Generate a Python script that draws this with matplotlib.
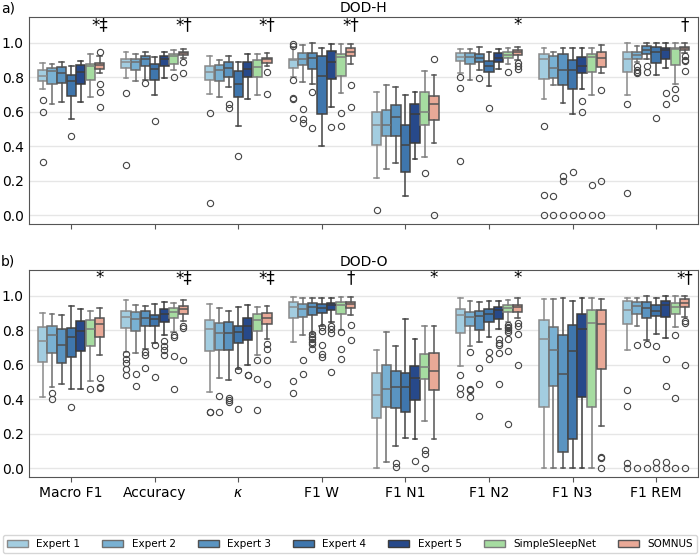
import numpy as np
import matplotlib.pyplot as plt
from matplotlib.patches import Patch

#----------------------------------------------------------------------------------------------------------------------
# Data: per metric, per model -> [whislo, q1, median, q3, whishi]

metrics = ["Macro F1", "Accuracy", "$\\kappa$", "F1 W", "F1 N1", "F1 N2", "F1 N3", "F1 REM"]
models = ["Expert 1", "Expert 2", "Expert 3", "Expert 4", "Expert 5", "SimpleSleepNet", "SOMNUS"]

dodh_stats = [
    [[0.730, 0.776, 0.809, 0.840, 0.884], [0.643, 0.763, 0.834, 0.853, 0.876], [0.656, 0.768, 0.822, 0.861, 0.890],
     [0.560, 0.691, 0.778, 0.811, 0.865], [0.656, 0.763, 0.830, 0.873, 0.894], [0.685, 0.786, 0.865, 0.876, 0.931],
     [0.822, 0.849, 0.873, 0.884, 0.920]],
    [[0.793, 0.853, 0.890, 0.903, 0.946], [0.776, 0.840, 0.890, 0.907, 0.936], [0.786, 0.865, 0.903, 0.923, 0.948],
     [0.695, 0.786, 0.847, 0.876, 0.919], [0.793, 0.865, 0.903, 0.923, 0.948], [0.840, 0.878, 0.923, 0.931, 0.956],
     [0.913, 0.927, 0.940, 0.948, 0.965]],
    [[0.705, 0.782, 0.830, 0.865, 0.923], [0.685, 0.776, 0.840, 0.871, 0.898], [0.743, 0.803, 0.851, 0.890, 0.923],
     [0.515, 0.685, 0.763, 0.836, 0.890], [0.672, 0.799, 0.849, 0.886, 0.931], [0.699, 0.803, 0.857, 0.898, 0.931],
     [0.865, 0.882, 0.903, 0.913, 0.942]],
    [[0.803, 0.855, 0.897, 0.903, 0.975], [0.772, 0.871, 0.907, 0.942, 0.986], [0.759, 0.849, 0.913, 0.938, 0.996],
     [0.402, 0.589, 0.807, 0.923, 0.971], [0.627, 0.792, 0.890, 0.952, 0.994], [0.707, 0.805, 0.917, 0.931, 0.994],
     [0.878, 0.922, 0.946, 0.969, 0.994]],
    [[0.218, 0.409, 0.521, 0.598, 0.716], [0.266, 0.461, 0.525, 0.608, 0.757], [0.303, 0.461, 0.571, 0.641, 0.745],
     [0.112, 0.251, 0.409, 0.523, 0.699], [0.328, 0.421, 0.589, 0.647, 0.716], [0.340, 0.525, 0.600, 0.712, 0.834],
     [0.417, 0.554, 0.647, 0.691, 0.811]],
    [[0.822, 0.892, 0.917, 0.938, 0.961], [0.786, 0.878, 0.917, 0.942, 0.965], [0.840, 0.886, 0.913, 0.932, 0.973],
     [0.751, 0.832, 0.865, 0.892, 0.946], [0.846, 0.890, 0.913, 0.942, 0.961], [0.878, 0.911, 0.929, 0.946, 0.969],
     [0.900, 0.927, 0.948, 0.958, 0.975]],
    [[0.676, 0.788, 0.903, 0.936, 0.967], [0.755, 0.793, 0.853, 0.923, 0.948], [0.653, 0.757, 0.840, 0.936, 0.971],
     [0.589, 0.730, 0.840, 0.898, 0.967], [0.730, 0.824, 0.865, 0.917, 0.967], [0.697, 0.830, 0.917, 0.931, 0.971],
     [0.822, 0.861, 0.913, 0.946, 0.986]],
    [[0.699, 0.830, 0.907, 0.948, 0.996], [0.888, 0.907, 0.927, 0.946, 0.981], [0.907, 0.932, 0.958, 0.981, 1.000],
     [0.813, 0.884, 0.946, 0.977, 1.000], [0.853, 0.907, 0.958, 0.967, 0.996], [0.763, 0.873, 0.963, 0.969, 1.000],
     [0.942, 0.958, 0.969, 0.977, 1.000]],
]

dodh_fliers = [
    [[0.666, 0.600, 0.311], [], [], [0.458], [], [], [0.948, 0.759, 0.712, 0.627]],
    [[0.707, 0.293], [], [0.768], [0.548], [], [0.801], [0.890, 0.826]],
    [[0.591, 0.071], [], [0.645, 0.624], [0.344], [], [], [0.828, 0.701]],
    [[0.990, 0.981, 0.782, 0.681, 0.676, 0.566], [0.618, 0.560, 0.533], [0.714, 0.508], [], [0.512],
     [0.593, 0.515], [0.753, 0.627]],
    [[0.031], [], [], [], [], [0.243], [0.903, 0.002]],
    [[0.799, 0.737, 0.315], [], [0.795], [0.622], [], [0.828], [0.880, 0.865, 0.846]],
    [[0.517, 0.116, 0.0], [0.110, 0.0], [0.228, 0.199, 0.0], [0.251, 0.0], [0.662, 0.598, 0.0], [0.174, 0.0],
     [0.728, 0.199, 0.0]],
    [[0.647, 0.131], [0.867, 0.840, 0.830, 0.822], [0.863, 0.830], [0.566], [0.710, 0.647], [0.730, 0.681],
     [0.923, 0.900, 0.892, 0.836]],
]

dodo_stats = [
    [[0.414, 0.617, 0.738, 0.819, 0.902], [0.472, 0.669, 0.771, 0.823, 0.896], [0.491, 0.611, 0.717, 0.809, 0.886],
     [0.459, 0.647, 0.761, 0.813, 0.940], [0.462, 0.678, 0.796, 0.855, 0.921], [0.507, 0.707, 0.809, 0.859, 0.913],
     [0.659, 0.761, 0.836, 0.869, 0.931]],
    [[0.674, 0.815, 0.875, 0.913, 0.973], [0.667, 0.796, 0.867, 0.906, 0.948], [0.690, 0.823, 0.873, 0.911, 0.942],
     [0.724, 0.825, 0.867, 0.890, 0.954], [0.771, 0.848, 0.896, 0.923, 0.963], [0.790, 0.873, 0.906, 0.931, 0.960],
     [0.854, 0.894, 0.923, 0.940, 0.973]],
    [[0.443, 0.682, 0.805, 0.857, 0.950], [0.526, 0.684, 0.786, 0.842, 0.929], [0.511, 0.688, 0.786, 0.848, 0.909],
     [0.578, 0.726, 0.792, 0.825, 0.934], [0.601, 0.744, 0.825, 0.869, 0.944], [0.659, 0.794, 0.861, 0.896, 0.934],
     [0.751, 0.836, 0.873, 0.902, 0.942]],
    [[0.732, 0.871, 0.934, 0.961, 0.992], [0.771, 0.875, 0.921, 0.950, 0.986], [0.784, 0.886, 0.934, 0.958, 0.986],
     [0.825, 0.900, 0.931, 0.952, 0.986], [0.848, 0.915, 0.948, 0.960, 0.986], [0.800, 0.896, 0.948, 0.961, 0.992],
     [0.890, 0.930, 0.950, 0.965, 0.995]],
    [[0.0, 0.293, 0.424, 0.555, 0.684], [0.039, 0.355, 0.459, 0.597, 0.788], [0.131, 0.351, 0.470, 0.566, 0.711],
     [0.179, 0.324, 0.470, 0.551, 0.863], [0.173, 0.397, 0.524, 0.590, 0.748], [0.276, 0.520, 0.588, 0.661, 0.827],
     [0.173, 0.455, 0.563, 0.667, 0.827]],
    [[0.592, 0.786, 0.890, 0.925, 0.987], [0.711, 0.825, 0.875, 0.904, 0.967], [0.732, 0.802, 0.884, 0.913, 0.963],
     [0.761, 0.848, 0.894, 0.925, 0.967], [0.809, 0.867, 0.915, 0.934, 0.969], [0.848, 0.906, 0.931, 0.944, 0.977],
     [0.871, 0.908, 0.933, 0.948, 0.987]],
    [[0.0, 0.353, 0.751, 0.857, 0.979], [0.0, 0.478, 0.684, 0.821, 0.983], [0.0, 0.096, 0.545, 0.775, 0.988],
     [0.0, 0.170, 0.682, 0.832, 0.967], [0.0, 0.414, 0.809, 0.896, 0.988], [0.0, 0.355, 0.844, 0.915, 0.988],
     [0.245, 0.578, 0.834, 0.915, 0.983]],
    [[0.688, 0.836, 0.919, 0.967, 0.987], [0.827, 0.896, 0.938, 0.961, 0.987], [0.746, 0.873, 0.931, 0.963, 0.996],
     [0.776, 0.881, 0.909, 0.948, 0.987], [0.757, 0.877, 0.944, 0.969, 0.998], [0.819, 0.892, 0.934, 0.958, 0.998],
     [0.877, 0.934, 0.960, 0.979, 0.998]],
]

dodo_fliers = [
    [[], [0.437, 0.401], [], [0.356], [], [0.460], [0.522, 0.472, 0.466]],
    [[0.661, 0.636, 0.611, 0.578, 0.538], [0.545, 0.480], [0.674, 0.655, 0.580], [0.717, 0.532],
     [0.736, 0.711, 0.688, 0.655], [0.771, 0.763, 0.651, 0.462], [0.823, 0.813, 0.626]],
    [[0.329, 0.326], [0.418, 0.329], [0.408, 0.397, 0.383], [0.570, 0.345], [0.543, 0.538], [0.630, 0.520, 0.341],
     [0.723, 0.694, 0.630, 0.486]],
    [[0.507, 0.435], [0.630, 0.545], [0.776, 0.763, 0.748, 0.732, 0.723, 0.694], [0.819, 0.798, 0.713, 0.665, 0.645],
     [0.825, 0.805, 0.786, 0.559], [0.790, 0.690, 0.632], [0.828, 0.745]],
    [[], [], [0.029, 0.006], [], [0.042], [0.106, 0.081, 0.004], []],
    [[0.543, 0.468, 0.430], [0.672, 0.459, 0.453, 0.414], [0.584, 0.491, 0.301], [0.676, 0.636],
     [0.748, 0.728, 0.713, 0.669, 0.491], [0.830, 0.820, 0.810, 0.800, 0.790, 0.750, 0.682, 0.256],
     [0.842, 0.825, 0.778, 0.597]],
    [[], [], [], [], [], [], [0.064, 0.058, 0.0]],
    [[0.455, 0.360, 0.033, 0.0], [0.717, 0.0], [0.723, 0.0], [0.709, 0.039, 0.0], [0.634, 0.478, 0.039, 0.0],
     [0.775, 0.408, 0.0], [0.852, 0.842, 0.597, 0.0]],
]

dodh_marks = ["*‡", "*†", "*†", "*†", "", "*", "", "†"]
dodo_marks = ["*", "*‡", "*‡", "†", "*", "*", "", "*†"]

#----------------------------------------------------------------------------------------------------------------------
# Style

fills = ["#a3cde0", "#79b1d3", "#5a94c1", "#3f76ad", "#27498a", "#a6dca1", "#e9a997"]
edges = ["#8a8a8a", "#6e6e6e", "#505050", "#444444", "#3c3c3c", "#7c7c7c", "#555555"]

plt.rcParams["font.family"] = ["DejaVu Sans"]
fig = plt.figure(figsize=(7, 5.55), dpi=100)
ax1 = fig.add_axes([0.042, 0.597, 0.955, 0.373])
ax2 = fig.add_axes([0.042, 0.141, 0.955, 0.373])

step = 0.8 / len(models)


def draw_panel(ax, stats, fliers, marks, title, letter, show_labels):
    for i in range(len(metrics)):
        for j in range(len(models)):
            lo, q1, med, q3, hi = stats[i][j]
            st = dict(whislo=lo, q1=q1, med=med, q3=q3, whishi=hi, fliers=fliers[i][j])
            pos = i + (j - 3) * step
            lc = edges[j]
            ax.bxp([st], positions=[pos], widths=step * 0.97, patch_artist=True,
                   capwidths=step * 0.5,
                   boxprops=dict(facecolor=fills[j], edgecolor=lc, linewidth=1.1),
                   medianprops=dict(color=lc, linewidth=1.1),
                   whiskerprops=dict(color=lc, linewidth=1.1),
                   capprops=dict(color=lc, linewidth=1.1),
                   flierprops=dict(marker="o", markersize=4.5, markerfacecolor="none",
                                   markeredgecolor="#444444", markeredgewidth=0.8))
        if marks[i]:
            ax.text(i + 3 * step, 1.1, marks[i], ha="center", va="center", fontsize=12)

    ax.set_xlim(-0.5, len(metrics) - 0.5)
    ax.set_ylim(-0.048, 1.15)
    ax.set_yticks([0.0, 0.2, 0.4, 0.6, 0.8, 1.0])
    ax.set_xticks(range(len(metrics)))
    if show_labels:
        ax.set_xticklabels(metrics, fontsize=10)
    else:
        ax.set_xticklabels([])
    ax.tick_params(axis="y", length=0, labelsize=10, pad=4)
    ax.tick_params(axis="x", length=3.5, color="#555555")
    ax.yaxis.grid(True, color="#e6e6e6", linewidth=1)
    ax.set_axisbelow(True)
    for s in ax.spines.values():
        s.set_color("#555555")
    ax.set_title(title, fontsize=10, pad=3)
    top = ax.get_position().y1
    fig.text(0.001, top + 0.027, letter, fontsize=10, va="top", ha="left")


draw_panel(ax1, dodh_stats, dodh_fliers, dodh_marks, "DOD-H", "a)", False)
draw_panel(ax2, dodo_stats, dodo_fliers, dodo_marks, "DOD-O", "b)", True)

handles = [Patch(facecolor=fills[j], edgecolor=edges[j], label=models[j]) for j in range(len(models))]
fig.legend(handles=handles, loc="lower left", bbox_to_anchor=(0.004, 0.003, 0.992, 0.035), ncol=7, fontsize=7.5,
           frameon=True, edgecolor="#cccccc", mode="expand", borderaxespad=0.0,
           handlelength=2.0, handleheight=0.6, columnspacing=1.0)

fig.savefig("out.png", dpi=100)
